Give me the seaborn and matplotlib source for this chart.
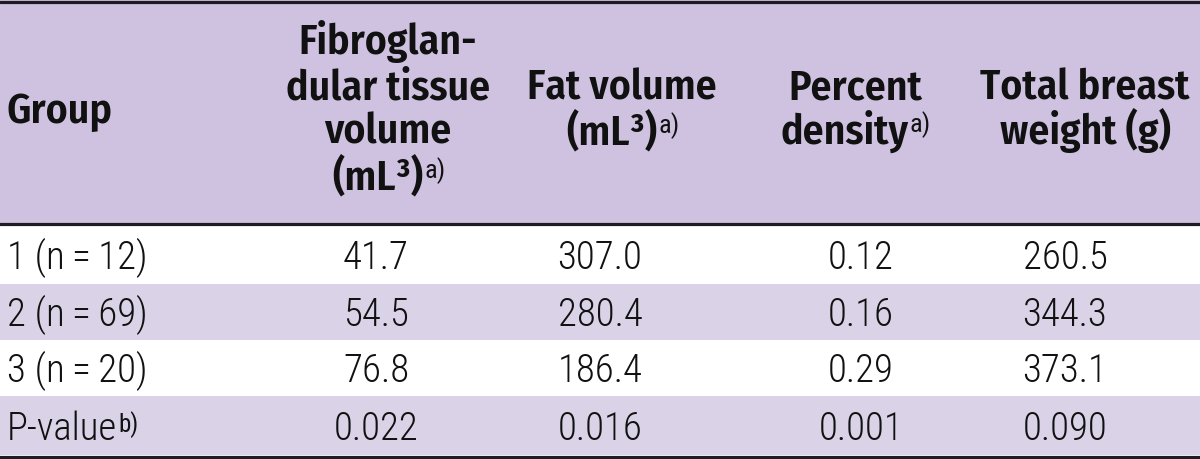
import matplotlib
matplotlib.use("Agg")
import seaborn as sns
import matplotlib.pyplot as plt

# table content
groups = ["1 (n\u2009=\u200912)", "2 (n\u2009=\u200969)", "3 (n\u2009=\u200920)", "P-value"]
fibro_volume = [41.7, 54.5, 76.8]
fat_volume = [307.0, 280.4, 186.4]
percent_density = [0.12, 0.16, 0.29]
breast_weight = [260.5, 344.3, 373.1]
p_values = [0.022, 0.016, 0.001, 0.090]

# header lines; a trailing note marker is drawn as a superscript
col_headers = [
    [("Fibroglan-", ""), ("dular tissue", ""), ("volume", ""), ("(mL\u00b3)", "a)")],
    [("Fat volume", ""), ("(mL\u00b3)", "a)")],
    [("Percent", ""), ("density", "a)")],
    [("Total breast", ""), ("weight (g)", "")],
]
formats = ["{:.1f}", "{:.1f}", "{:.2f}", "{:.1f}"]

header_bg = "#cec2e0"
stripe_bg = "#dad3e7"
rule_color = "#201a22"

body_font = ["Roboto Condensed", "Archivo Narrow", "DejaVu Sans"]
head_font = ["Fira Sans Condensed", "Roboto Condensed", "Archivo Narrow", "DejaVu Sans"]

sns.set_theme(style="white")
plt.rcParams["font.family"] = body_font
plt.rcParams["text.color"] = "#111111"

fig = plt.figure(figsize=(12, 4.59), dpi=100)
ax = fig.add_axes([0, 0, 1, 1])
ax.set_xlim(0, 1200)
ax.set_ylim(459, 0)
ax.axis("off")

# layout (pixels)
header_bottom = 224
row_edges = [226, 284, 340, 396, 455]
data_x = [376, 600, 861, 1065]
head_x = [388, 622, 855, 1085]
head_base = [54, 99, 144, 189]


def sup(t, note, size):
    # small superscript note marker attached to the end of a text
    ax.annotate(note, xy=(1, 1), xycoords=t, xytext=(0.5, -1),
                textcoords="offset points", fontsize=size,
                family=body_font, ha="left", va="top")


ax.axhspan(0, header_bottom, color=header_bg, lw=0)
for i in range(4):
    if i % 2 == 1:
        ax.axhspan(row_edges[i], row_edges[i + 1], color=stripe_bg, lw=0)

for y in [1.5, header_bottom, 456.5]:
    ax.axhline(y, color=rule_color, lw=2.3)

# header
ax.text(7, 123, "Group", fontsize=30, fontweight="semibold", family=head_font,
        ha="left", va="baseline")
for j, lines in enumerate(col_headers):
    start = 0 if len(lines) == 4 else 1
    for k, (line, note) in enumerate(lines):
        x = head_x[j] - (10 if note else 0)
        t = ax.text(x, head_base[start + k], line, fontsize=30,
                    fontweight="semibold", family=head_font, ha="center", va="baseline")
        if note:
            sup(t, note, 19)

# body
columns = [fibro_volume, fat_volume, percent_density, breast_weight]
for i in range(4):
    base = (row_edges[i] + row_edges[i + 1]) / 2 + 14
    t = ax.text(7, base, groups[i], fontsize=28, fontweight="light", ha="left", va="baseline")
    if i == 3:
        sup(t, "b)", 18)
    for j in range(4):
        if i < 3:
            s = formats[j].format(columns[j][i])
        else:
            s = "{:.3f}".format(p_values[j])
        ax.text(data_x[j], base, s, fontsize=28, fontweight="light",
                ha="center", va="baseline")

fig.savefig("out.png", dpi=100)
plt.close(fig)
